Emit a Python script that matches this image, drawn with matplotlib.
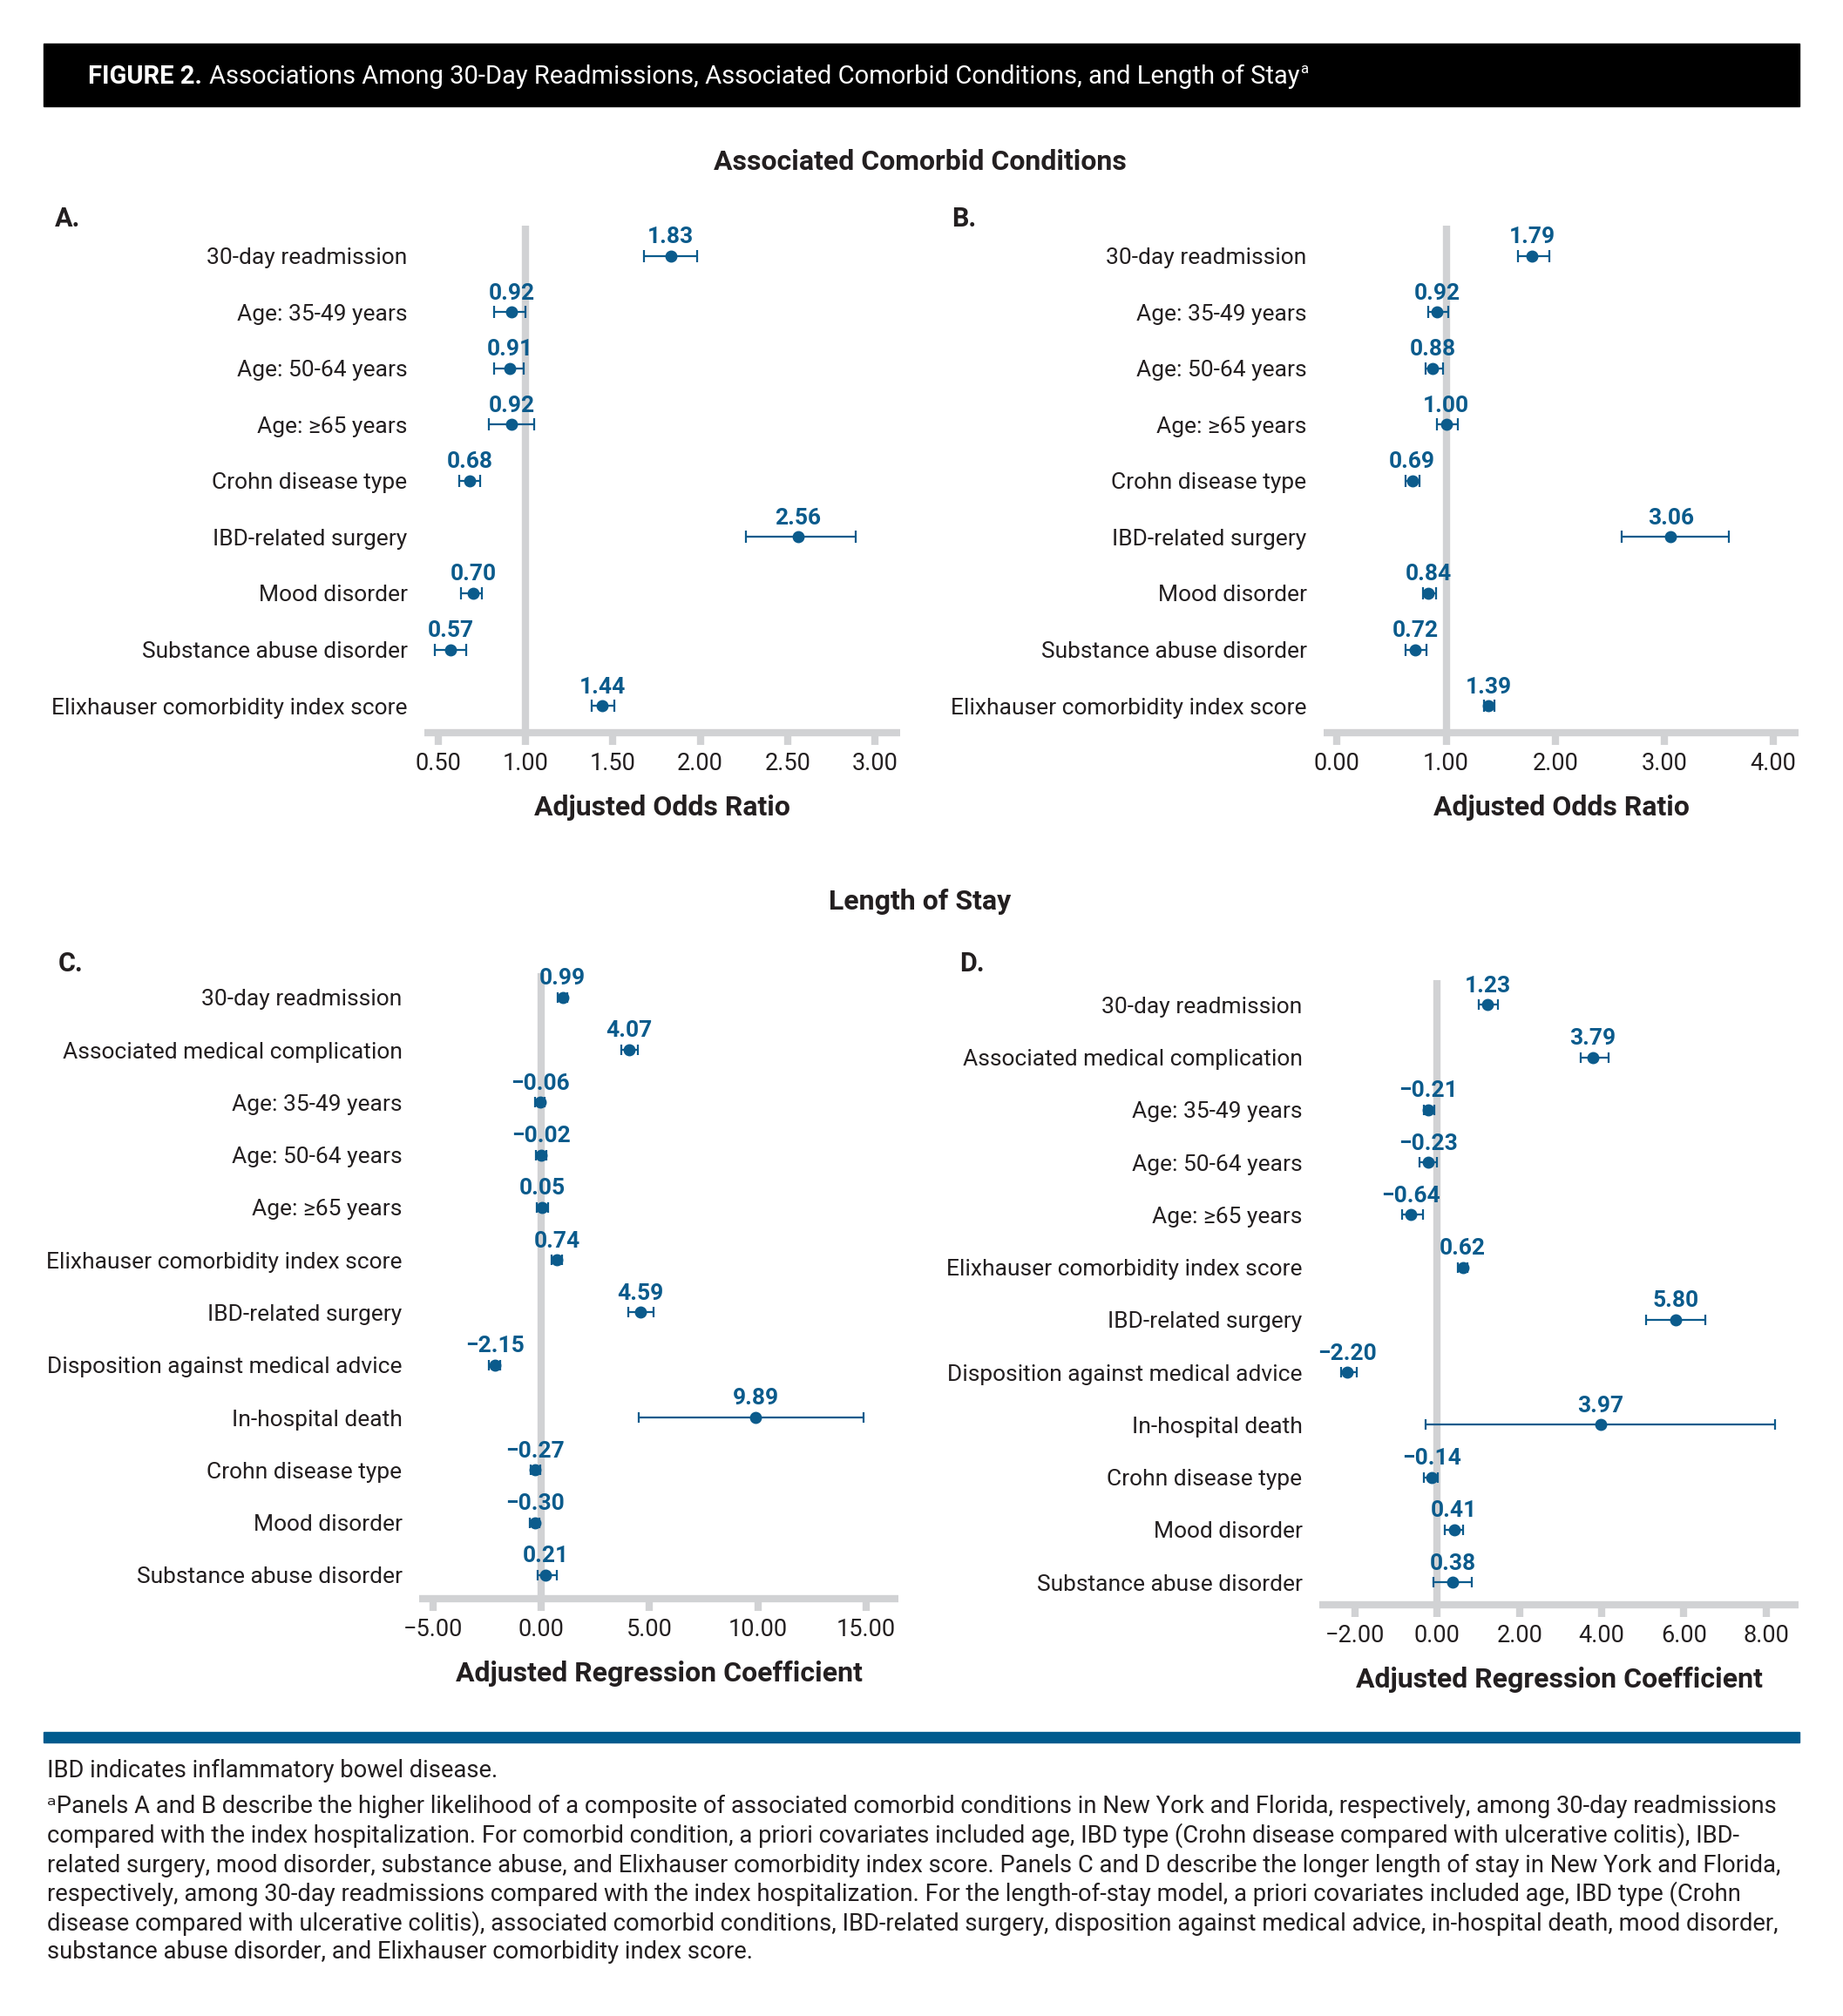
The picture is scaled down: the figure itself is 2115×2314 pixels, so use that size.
"""Forest plots: readmissions, comorbid conditions and length of stay
"""

import matplotlib
matplotlib.use("Agg")
import matplotlib.pyplot as plt
from matplotlib.patches import Rectangle
from matplotlib.ticker import FuncFormatter

import numpy as np

W, H = 2115, 2314
BLUE = "#0b5b8c"
GRAY = "#d1d2d4"
INK = "#231f20"

plt.rcParams['font.family'] = ['Roboto', 'DejaVu Sans']

# panel A - comorbid conditions, New York
labels_ab = ["30-day readmission", "Age: 35-49 years", "Age: 50-64 years",
             "Age: \u226565 years", "Crohn disease type", "IBD-related surgery",
             "Mood disorder", "Substance abuse disorder",
             "Elixhauser comorbidity index score"]
est_a = [1.83, 0.92, 0.91, 0.92, 0.68, 2.56, 0.70, 0.57, 1.44]
lo_a = [1.68, 0.82, 0.82, 0.79, 0.62, 2.26, 0.63, 0.48, 1.38]
hi_a = [1.98, 1.00, 0.99, 1.05, 0.74, 2.89, 0.75, 0.66, 1.51]

# panel B - comorbid conditions, Florida
est_b = [1.79, 0.92, 0.88, 1.00, 0.69, 3.06, 0.84, 0.72, 1.39]
lo_b = [1.66, 0.84, 0.81, 0.92, 0.63, 2.61, 0.79, 0.63, 1.35]
hi_b = [1.95, 1.02, 0.97, 1.11, 0.76, 3.59, 0.91, 0.82, 1.44]

# panel C - length of stay, New York
labels_c = ["30-day readmission", "Associated medical complication",
            "Age: 35-49 years", "Age: 50-64 years", "Age: \u226565 years",
            "Elixhauser comorbidity index score", "IBD-related surgery",
            "Disposition against medical advice", "In-hospital death",
            "Crohn disease type", "Mood disorder", "Substance abuse disorder"]
est_c = [0.99, 4.07, -0.06, -0.02, 0.05, 0.74, 4.59, -2.15, 9.89, -0.27, -0.30, 0.21]
lo_c = [0.75, 3.70, -0.30, -0.25, -0.22, 0.50, 4.02, -2.40, 4.52, -0.50, -0.52, -0.18]
hi_c = [1.20, 4.45, 0.15, 0.22, 0.33, 0.98, 5.17, -1.90, 14.88, -0.04, -0.09, 0.74]

# panel D - length of stay, Florida
est_d = [1.23, 3.79, -0.21, -0.23, -0.64, 0.62, 5.80, -2.20, 3.97, -0.14, 0.41, 0.38]
lo_d = [1.02, 3.48, -0.32, -0.43, -0.86, 0.51, 5.08, -2.34, -0.28, -0.32, 0.19, -0.09]
hi_d = [1.48, 4.16, -0.08, -0.01, -0.35, 0.74, 6.52, -1.95, 8.22, 0.01, 0.62, 0.85]

ticks_a = [0.5, 1.0, 1.5, 2.0, 2.5, 3.0]
ticks_b = [0.0, 1.0, 2.0, 3.0, 4.0]
ticks_c = [-5.0, 0.0, 5.0, 10.0, 15.0]
ticks_d = [-2.0, 0.0, 2.0, 4.0, 6.0, 8.0]

footnote = [
    "IBD indicates inflammatory bowel disease.",
    "\u1d43Panels A and B describe the higher likelihood of a composite of associated comorbid conditions in New York and Florida, respectively, among 30-day readmissions",
    "compared with the index hospitalization. For comorbid condition, a priori covariates included age, IBD type (Crohn disease compared with ulcerative colitis), IBD-",
    "related surgery, mood disorder, substance abuse, and Elixhauser comorbidity index score. Panels C and D describe the longer length of stay in New York and Florida,",
    "respectively, among 30-day readmissions compared with the index hospitalization. For the length-of-stay model, a priori covariates included age, IBD type (Crohn",
    "disease compared with ulcerative colitis), associated comorbid conditions, IBD-related surgery, disposition against medical advice, in-hospital death, mood disorder,",
    "substance abuse disorder, and Elixhauser comorbidity index score.",
]


def fx(x):
    return x / W


def fy(y):
    return 1 - y / H


def fmt(v):
    return "{:.2f}".format(v).replace("-", "\u2212")


def forest(fig, box, labels, est, lo, hi, ticks, xlim, ylim, xlabel, ref, cap=5):
    """box = left, right, top, bottom in pixels"""
    l, r, t, b = box
    ax = fig.add_axes([fx(l), fy(b), fx(r - l), (b - t) / H])
    y = np.arange(len(labels))
    est = np.array(est)
    err = [est - np.array(lo), np.array(hi) - est]
    ax.axvline(ref, color=GRAY, lw=6, zorder=0)
    ax.errorbar(est, y, xerr=err, fmt='o', color=BLUE, ms=9, elinewidth=1.6,
                capsize=cap, capthick=1.6, zorder=3)
    for yi, v in zip(y, est):
        ax.annotate(fmt(v), (v, yi), xytext=(0, 15.5), textcoords='offset points',
                    ha='center', va='center', color=BLUE, fontsize=19,
                    fontweight='bold')
    ax.set_xlim(*xlim)
    ax.set_ylim(*ylim)
    ax.set_yticks(y)
    ax.set_yticklabels(labels, fontsize=19, color=INK)
    ax.tick_params(axis='y', length=0, pad=14)
    ax.set_xticks(ticks)
    ax.xaxis.set_major_formatter(FuncFormatter(lambda v, p: fmt(v)))
    ax.tick_params(axis='x', length=10, width=6, color=GRAY, pad=6,
                   labelsize=19.5, labelcolor=INK)
    for s in ['top', 'right', 'left']:
        ax.spines[s].set_visible(False)
    ax.spines['bottom'].set_color(GRAY)
    ax.spines['bottom'].set_linewidth(6)
    ax.spines['bottom'].set_capstyle('butt')
    ax.patch.set_alpha(0)
    fig.text(fx((l + r) / 2), fy(b + 86), xlabel, ha='center', va='center',
             fontsize=23, fontweight='bold', color=INK)
    return ax


fig = plt.figure(figsize=(W / 100, H / 100), dpi=100)

# header bar
fig.patches.append(Rectangle((fx(50), fy(122)), fx(2015), 72 / H,
                             transform=fig.transFigure, color='black', zorder=0))
renderer = fig.canvas.get_renderer()
t1 = fig.text(fx(101), fy(88), "FIGURE 2.", color='white', fontsize=21,
              fontweight='bold', va='center')
e1 = t1.get_window_extent(renderer)
t2 = fig.text(fx(e1.x1 + 8), fy(88), "Associations Among 30-Day Readmissions, "
              "Associated Comorbid Conditions, and Length of Stay",
              color='white', fontsize=21, va='center')
e2 = t2.get_window_extent(renderer)
fig.text(fx(e2.x1 + 1), fy(80), "a", color='white', fontsize=12, va='center')

fig.text(fx(1056), fy(186), "Associated Comorbid Conditions", ha='center',
         va='center', fontsize=23, fontweight='bold', color=INK)
fig.text(fx(1056), fy(1035), "Length of Stay", ha='center', va='center',
         fontsize=23, fontweight='bold', color=INK)
for lab, x, yy in [("A.", 63, 251), ("B.", 1092, 251), ("C.", 67, 1106), ("D.", 1101, 1106)]:
    fig.text(fx(x), fy(yy), lab, va='center', fontsize=22, fontweight='bold', color=INK)

forest(fig, (487, 1033, 259, 841), labels_ab, est_a, lo_a, hi_a, ticks_a,
       (0.42, 3.145), (8.48, -0.54), "Adjusted Odds Ratio", 1.0)
forest(fig, (1519, 2064, 259, 841), labels_ab, est_b, lo_b, hi_b, ticks_b,
       (-0.122, 4.23), (8.48, -0.54), "Adjusted Odds Ratio", 1.0)
forest(fig, (481, 1031, 1117, 1835), labels_c, est_c, lo_c, hi_c, ticks_c,
       (-5.63, 16.48), (11.45, -0.46), "Adjusted Regression Coefficient", 0.0, cap=4)
forest(fig, (1514, 2064, 1125, 1842), labels_c, est_d, lo_d, hi_d, ticks_d,
       (-2.87, 8.79), (11.43, -0.47), "Adjusted Regression Coefficient", 0.0, cap=4)

# bottom rule and footnote
fig.patches.append(Rectangle((fx(50), fy(2000)), fx(2015), 12 / H,
                             transform=fig.transFigure, color='#005b8e', zorder=0))
probe = fig.text(0, 0, footnote[5], fontsize=17)
size = 17 * 1986 / probe.get_window_extent(renderer).width
probe.remove()
ys = [2032, 2073, 2107, 2141, 2174, 2208, 2241]
for line, yy in zip(footnote, ys):
    fig.text(fx(54), fy(yy), line, fontsize=size, va='center', color=INK)

fig.savefig("out.png", dpi=100)
